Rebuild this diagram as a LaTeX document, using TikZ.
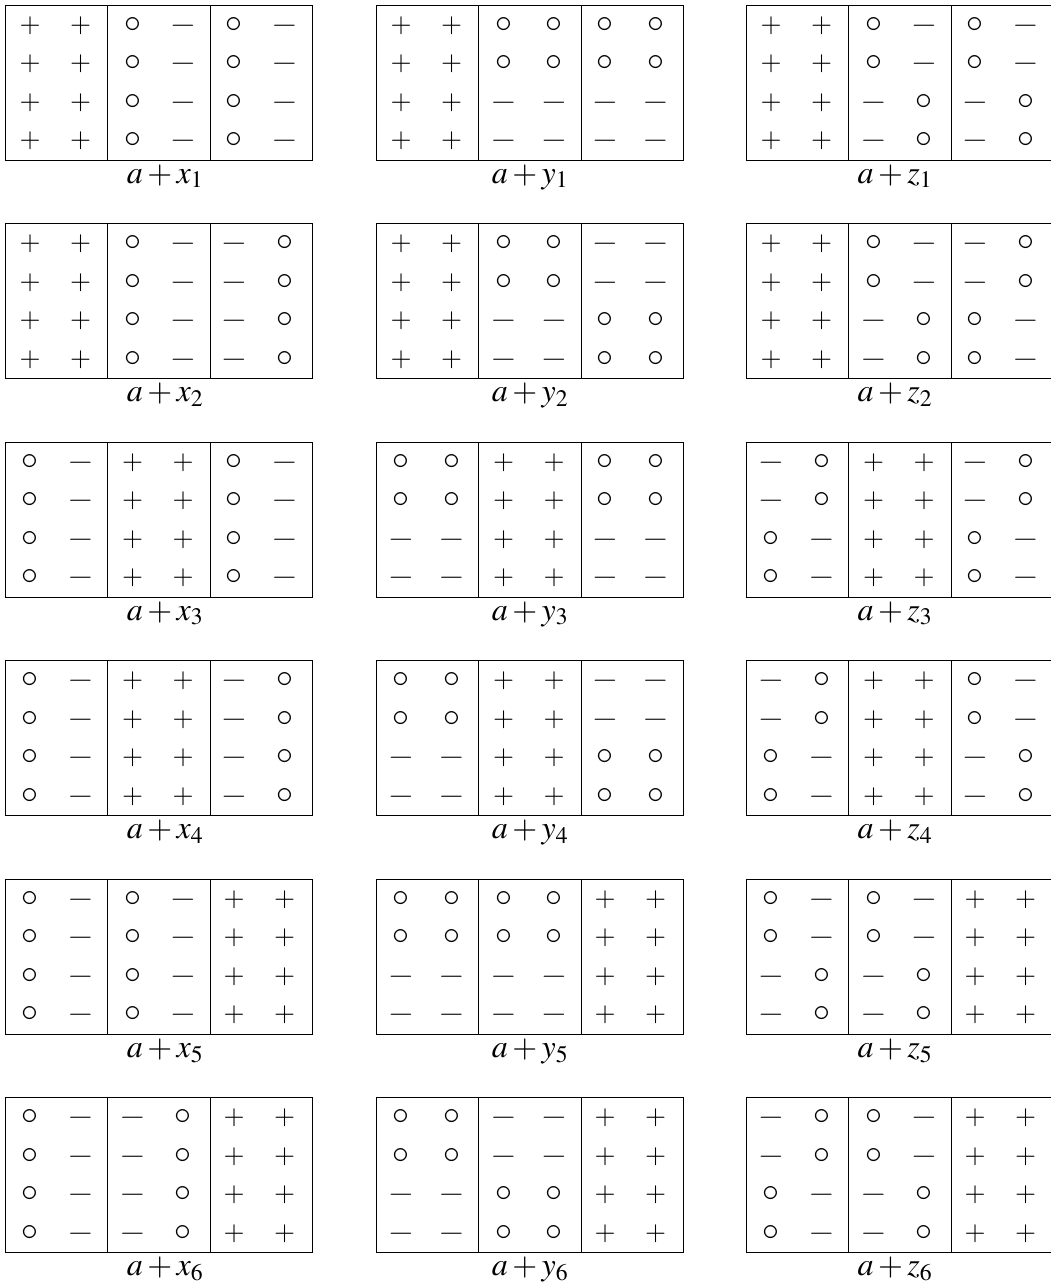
\documentclass[tikz,border=0pt]{standalone}
\usepackage{mathptmx}
\usepackage{graphicx}
\tikzset{
  sym/.style={inner sep=0pt, anchor=base, font=\fontsize{27}{27}\selectfont},
  lab/.style={inner sep=0pt, anchor=base, font=\fontsize{32}{32}\selectfont},
  frame/.style={line width=1pt, draw=black}
}
\newcommand\symp{$+$}
\newcommand\symo{\scalebox{1.25}{$\circ$}}
\newcommand\symm{\scalebox{1.25}[1]{$-$}}
\newcommand\drawtab[6]{%
  \draw[frame] (#2,#3) rectangle ++(307.5,155);
  \draw[frame] (#2+102.5,#3) -- ++(0,155);
  \draw[frame] (#2+205,#3) -- ++(0,155);
  \foreach \rw [count=\r] in {#6} {
    \foreach \s [count=\c] in \rw {
      \pgfmathsetmacro\dx{{25,75.5,127.5,178,229,279.5}[\c-1]}
      \node[sym] (#1-\r-\c) at (#2+\dx, #3+27+38.5*\r-38.5) {\csname sym\s\endcsname};
    }
  }
  \node[lab] (#1-lab) at (#4,#3+178) {$#5$};
}
\begin{document}
\begin{tikzpicture}[x=1pt,y=-1pt]
\useasboundingbox (0,0) rectangle (1051,1286);
\clip (0,0) rectangle (1051,1286);
% column x
\drawtab{x1}{5}{5}{165}{a+x_1}{{p,p,o,m,o,m},{p,p,o,m,o,m},{p,p,o,m,o,m},{p,p,o,m,o,m}}
\drawtab{x2}{5}{223.5}{165}{a+x_2}{{p,p,o,m,m,o},{p,p,o,m,m,o},{p,p,o,m,m,o},{p,p,o,m,m,o}}
\drawtab{x3}{5}{442}{165}{a+x_3}{{o,m,p,p,o,m},{o,m,p,p,o,m},{o,m,p,p,o,m},{o,m,p,p,o,m}}
\drawtab{x4}{5}{660.5}{165}{a+x_4}{{o,m,p,p,m,o},{o,m,p,p,m,o},{o,m,p,p,m,o},{o,m,p,p,m,o}}
\drawtab{x5}{5}{879}{165}{a+x_5}{{o,m,o,m,p,p},{o,m,o,m,p,p},{o,m,o,m,p,p},{o,m,o,m,p,p}}
\drawtab{x6}{5}{1097.5}{165}{a+x_6}{{o,m,m,o,p,p},{o,m,m,o,p,p},{o,m,m,o,p,p},{o,m,m,o,p,p}}
% column y
\drawtab{y1}{376}{5}{530}{a+y_1}{{p,p,o,o,o,o},{p,p,o,o,o,o},{p,p,m,m,m,m},{p,p,m,m,m,m}}
\drawtab{y2}{376}{223.5}{530}{a+y_2}{{p,p,o,o,m,m},{p,p,o,o,m,m},{p,p,m,m,o,o},{p,p,m,m,o,o}}
\drawtab{y3}{376}{442}{530}{a+y_3}{{o,o,p,p,o,o},{o,o,p,p,o,o},{m,m,p,p,m,m},{m,m,p,p,m,m}}
\drawtab{y4}{376}{660.5}{530}{a+y_4}{{o,o,p,p,m,m},{o,o,p,p,m,m},{m,m,p,p,o,o},{m,m,p,p,o,o}}
\drawtab{y5}{376}{879}{530}{a+y_5}{{o,o,o,o,p,p},{o,o,o,o,p,p},{m,m,m,m,p,p},{m,m,m,m,p,p}}
\drawtab{y6}{376}{1097.5}{530}{a+y_6}{{o,o,m,m,p,p},{o,o,m,m,p,p},{m,m,o,o,p,p},{m,m,o,o,p,p}}
% column z
\drawtab{z1}{746}{5}{895}{a+z_1}{{p,p,o,m,o,m},{p,p,o,m,o,m},{p,p,m,o,m,o},{p,p,m,o,m,o}}
\drawtab{z2}{746}{223.5}{895}{a+z_2}{{p,p,o,m,m,o},{p,p,o,m,m,o},{p,p,m,o,o,m},{p,p,m,o,o,m}}
\drawtab{z3}{746}{442}{895}{a+z_3}{{m,o,p,p,m,o},{m,o,p,p,m,o},{o,m,p,p,o,m},{o,m,p,p,o,m}}
\drawtab{z4}{746}{660.5}{895}{a+z_4}{{m,o,p,p,o,m},{m,o,p,p,o,m},{o,m,p,p,m,o},{o,m,p,p,m,o}}
\drawtab{z5}{746}{879}{895}{a+z_5}{{o,m,o,m,p,p},{o,m,o,m,p,p},{m,o,m,o,p,p},{m,o,m,o,p,p}}
\drawtab{z6}{746}{1097.5}{895}{a+z_6}{{m,o,o,m,p,p},{m,o,o,m,p,p},{o,m,m,o,p,p},{o,m,m,o,p,p}}
\end{tikzpicture}
\end{document}
